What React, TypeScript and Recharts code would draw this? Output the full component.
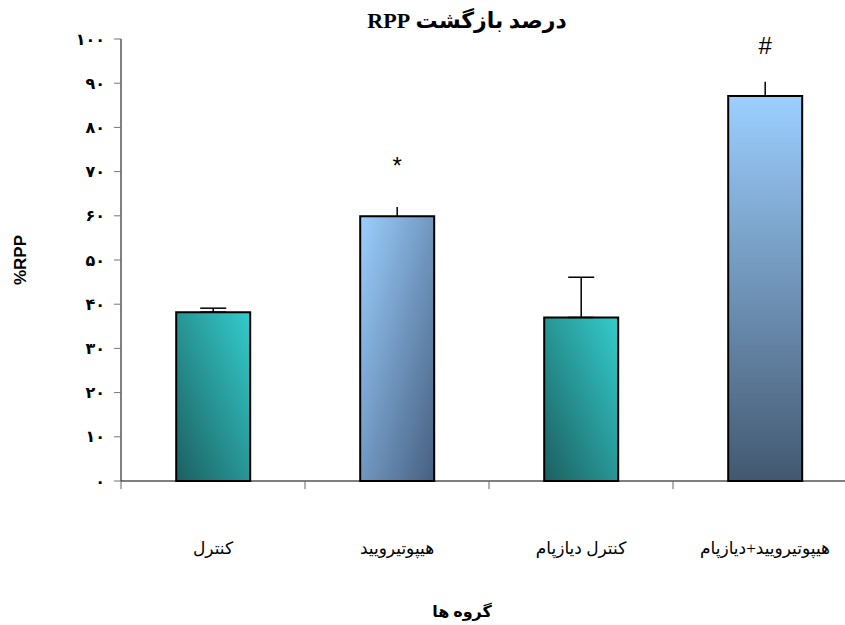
import { BarChart, Bar, XAxis, YAxis, ErrorBar, Cell, LabelList } from "recharts";

const groups = ["کنترل", "هیپوتیرویید", "کنترل دیازپام", "هیپوتیرویید+دیازپام"];
const rppValues = [38.2, 59.9, 37.0, 87.1];
const errWithCap = [0.9, null, 9.1, null];
const errNoCap = [null, 2.1, null, 3.2];
const marks = ["", "*", "", "#"];
const fills = ["url(#teal)", "url(#blueDiag)", "url(#teal)", "url(#blueVert)"];
const yTicks = [0, 10, 20, 30, 40, 50, 60, 70, 80, 90, 100];

const faDigits = "۰۱۲۳۴۵۶۷۸۹";
const toFa = (n: number) => String(n).replace(/\d/g, (d) => faDigits[Number(d)]);

const data = groups.map((g, i) => ({
  name: g,
  rpp: rppValues[i],
  errCap: errWithCap[i] == null ? undefined : [0, errWithCap[i]],
  errPlain: errNoCap[i] == null ? undefined : [0, errNoCap[i]],
  mark: marks[i],
}));

const arabicFont = "'Liberation Serif', 'DejaVu Sans', serif";
const TICK_SHIFT = 8; // tickSize + tickMargin that recharts adds to y

// category label in the middle, axis segment + tick mark on the left edge of each band
function GroupTick(props: any) {
  const { x, y, payload, width, visibleTicksCount } = props;
  const half = width / visibleTicksCount / 2;
  const ay = y - TICK_SHIFT;
  return (
    <g>
      <line x1={x - half} y1={ay} x2={x + half} y2={ay} stroke="#000" strokeWidth={1.2} />
      <line x1={x - half} y1={ay} x2={x - half} y2={ay + 8} stroke="#666" />
      <text
        x={x}
        y={ay + 73}
        textAnchor="middle"
        fontFamily={arabicFont}
        fontSize={17}
        fill="#000"
        style={{ direction: "rtl" }}
      >
        {payload.value}
      </text>
    </g>
  );
}

export default function App() {
  return (
    <div
      style={{
        position: "fixed",
        left: 0,
        top: 0,
        width: 845,
        height: 625,
        overflow: "hidden",
        background: "#fff",
      }}
    >
      <div
        style={{
          position: "absolute",
          left: 327,
          top: 8,
          width: 280,
          textAlign: "center",
          fontFamily: arabicFont,
          fontWeight: "bold",
          fontSize: 22,
          direction: "rtl",
        }}
      >
        درصد بازگشت RPP
      </div>
      <BarChart
        width={860}
        height={625}
        data={data}
        margin={{ top: 39, right: 3, left: 0, bottom: 0 }}
        barCategoryGap="30%"
      >
        <defs>
          <linearGradient id="teal" x1="0" y1="1" x2="1" y2="0">
            <stop offset="0%" stopColor="#1c5f5f" />
            <stop offset="100%" stopColor="#34cccc" />
          </linearGradient>
          <linearGradient id="blueDiag" x1="0" y1="0" x2="1" y2="1">
            <stop offset="0%" stopColor="#9ccfff" />
            <stop offset="100%" stopColor="#465f80" />
          </linearGradient>
          <linearGradient id="blueVert" x1="0" y1="0" x2="0" y2="1">
            <stop offset="0%" stopColor="#9ccfff" />
            <stop offset="100%" stopColor="#435870" />
          </linearGradient>
        </defs>
        <XAxis
          dataKey="name"
          height={144}
          axisLine={false}
          tickLine={false}
          tick={<GroupTick />}
          interval={0}
          label={{
            value: "گروه ها",
            position: "insideBottom",
            offset: 8,
            dx: -27,
            style: {
              fontFamily: arabicFont,
              fontWeight: "bold",
              fontSize: 16,
              fill: "#000",
              direction: "rtl",
            },
          }}
        />
        <YAxis
          domain={[0, 100]}
          ticks={yTicks}
          width={121}
          tickSize={7}
          tickMargin={9}
          tickFormatter={toFa}
          stroke="#000"
          tickLine={{ stroke: "#777" }}
          tick={{ fill: "#000", fontSize: 16, fontWeight: "bold", fontFamily: arabicFont }}
          label={{
            value: "%RPP",
            angle: -90,
            position: "insideLeft",
            offset: 20,
            style: {
              textAnchor: "middle",
              fontFamily: "'Liberation Sans', Arial, sans-serif",
              fontWeight: "bold",
              fontSize: 17,
              fill: "#000",
            },
          }}
        />
        <Bar dataKey="rpp" stroke="#000" strokeWidth={2} isAnimationActive={false}>
          {data.map((d, i) => (
            <Cell key={d.name} fill={fills[i]} />
          ))}
          <ErrorBar dataKey="errCap" width={13} stroke="#000" strokeWidth={1.5} direction="y" />
          <ErrorBar dataKey="errPlain" width={0} stroke="#000" strokeWidth={1.5} direction="y" />
          <LabelList
            dataKey="mark"
            position="top"
            offset={42}
            style={{ fontFamily: "'Liberation Sans', Arial, sans-serif", fontSize: 24, fill: "#000" }}
          />
        </Bar>
      </BarChart>
    </div>
  );
}
